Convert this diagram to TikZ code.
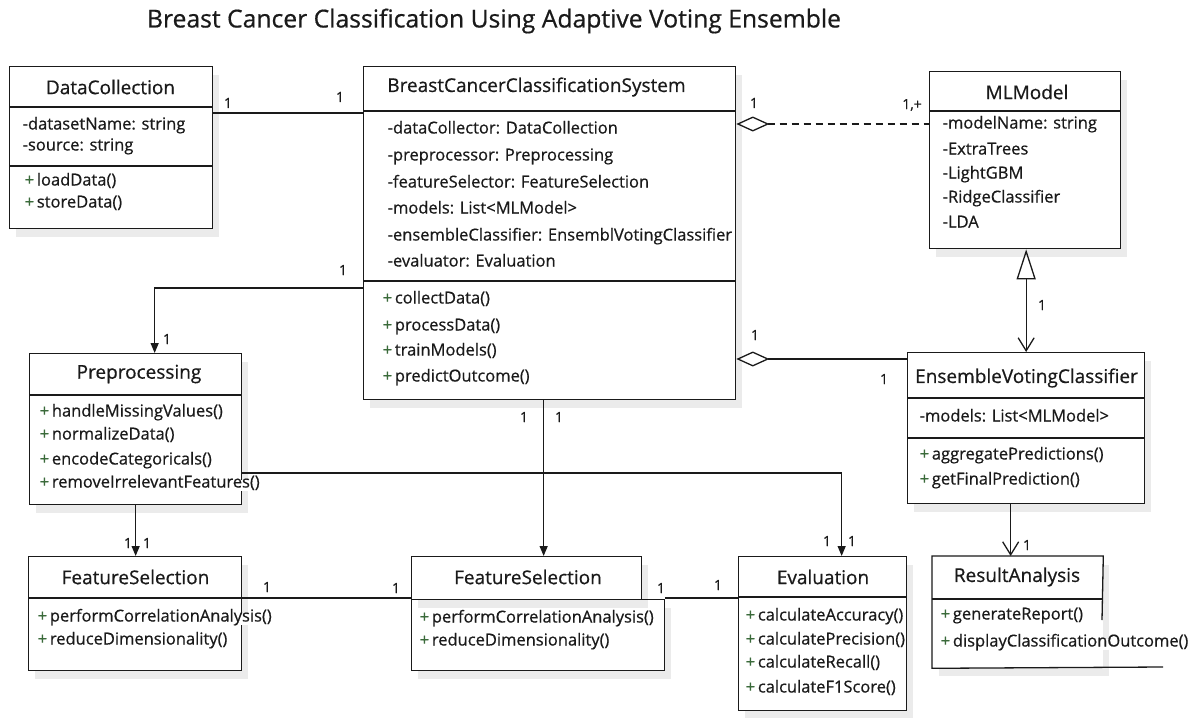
\documentclass[tikz,border=0pt]{standalone}
\usepackage{fontspec}
\setmainfont{Open Sans}[FakeBold=0.6]
\usetikzlibrary{arrows.meta,calc,shadows}
\definecolor{ink}{HTML}{1A1A1A}
\definecolor{plusgreen}{HTML}{3A6A3A}
\newcommand\op{\textcolor{plusgreen}{+}\,}
\tikzset{
  classbox/.style={draw=ink, line width=1.3pt, fill=white, anchor=north west, inner sep=0pt,
    drop shadow={shadow xshift=6pt, shadow yshift=-8pt, opacity=0.08, fill=black}},
  ctitle/.style={font=\fontsize{19}{22}\selectfont, text=ink, inner sep=0pt},
  member/.style={font=\fontsize{16.5}{19}\selectfont, text=ink, anchor=west, inner sep=0.5pt,
    fill=white, text height=0.75em, text depth=0.25em},
  mult/.style={font=\fontsize{14}{16}\selectfont, text=ink, inner sep=0pt},
  divider/.style={draw=ink, line width=1.3pt},
  link/.style={draw=ink, line width=1.3pt},
  solidtip/.style={-{Triangle[length=10pt,width=8pt]}},
  opentip/.style={-{Straight Barb[length=13pt,width=16pt]}},
  aggr/.style={{Diamond[open,length=33pt,width=15pt]}-},
}
\begin{document}
\begin{tikzpicture}[x=1pt,y=-1pt]
\useasboundingbox[fill=white] (0,0) rectangle (1193,717);

% heading
\node[font=\fontsize{24.7}{29}\selectfont, text=ink] (heading) at (494,21)
  {Breast Cancer Classification Using Adaptive Voting Ensemble};

% ---------- DataCollection ----------
\node[classbox, minimum width=203pt, minimum height=162pt] (dc) at (9,66) {};
\draw[divider] (9,107) -- (212,107);
\draw[divider] (9,166) -- (212,166);
\node[ctitle] (dct) at (110.5,87) {DataCollection};
\node[member] at (22,127) {-datasetName: string};
\node[member] at (22,148) {-source: string};
\node[member] at (24,183) {\op loadData()};
\node[member] at (24,205) {\op storeData()};

% ---------- BreastCancerClassificationSystem ----------
\node[classbox, minimum width=372pt, minimum height=333pt] (bccs) at (363,66) {};
\draw[divider] (363,111) -- (735,111);
\draw[divider] (363,281) -- (735,281);
\node[ctitle] (bccst) at (536.5,87) {BreastCancerClassificationSystem};
\node[member] at (387,131) {-dataCollector: DataCollection};
\node[member] at (387,158) {-preprocessor: Preprocessing};
\node[member] at (387,185) {-featureSelector: FeatureSelection};
\node[member] at (387,211) {-models: List<MLModel>};
\node[member] at (387,238) {-ensembleClassifier: EnsemblVotingClassifier};
\node[member] at (387,264) {-evaluator: Evaluation};
\node[member] at (382,301) {\op collectData()};
\node[member] at (382,328) {\op processData()};
\node[member] at (382,353) {\op trainModels()};
\node[member] at (382,379) {\op predictOutcome()};

% ---------- MLModel ----------
\node[classbox, minimum width=191pt, minimum height=177pt] (ml) at (929,71) {};
\draw[divider] (929,111) -- (1120,111);
\node[ctitle] (mlt) at (1027,92) {MLModel};
\node[member] at (942,126) {-modelName: string};
\node[member] at (942,152) {-ExtraTrees};
\node[member] at (942,176) {-LightGBM};
\node[member] at (942,200) {-RidgeClassifier};
\node[member] at (942,225) {-LDA};

% ---------- EnsembleVotingClassifier ----------
\node[classbox, minimum width=237pt, minimum height=151pt] (evc) at (907,352) {};
\draw[divider] (907,398) -- (1144,398);
\draw[divider] (907,438) -- (1144,438);
\node[ctitle] (evct) at (1026.5,378) {EnsembleVotingClassifier};
\node[member] at (919,419) {-models: List<MLModel>};
\node[member] at (919,457) {\op aggregatePredictions()};
\node[member] at (919,482) {\op getFinalPrediction()};

% ---------- Preprocessing ----------
\node[classbox, minimum width=212pt, minimum height=151pt] (pre) at (29,353) {};
\draw[divider] (29,395) -- (241,395);
\node[ctitle] (pret) at (139,374) {Preprocessing};
\node[member] at (39,414) {\op handleMissingValues()};
\node[member] at (39,437) {\op normalizeData()};
\node[member] at (39,462) {\op encodeCategoricals()};
\node[member] at (39,485) {\op removeIrrelevantFeatures()};

% ---------- FeatureSelection (left) ----------
\node[classbox, minimum width=213pt, minimum height=114pt] (fsa) at (28,556) {};
\draw[divider] (28,598) -- (241,598);
\node[ctitle] (fsat) at (135.5,577) {FeatureSelection};
\node[member] at (37,619) {\op performCorrelationAnalysis()};
\node[member] at (37,642) {\op reduceDimensionality()};

% ---------- FeatureSelection (middle) ----------
\node[classbox, minimum width=253pt, minimum height=71pt] (fsb) at (411,599) {};
\node[classbox, minimum width=230pt, minimum height=43pt] (fsh) at (411,556) {};
\node[ctitle] (fsbt) at (528,577) {FeatureSelection};
\node[member] at (419,620) {\op performCorrelationAnalysis()};
\node[member] at (419,643) {\op reduceDimensionality()};

% ---------- Evaluation ----------
\node[classbox, minimum width=168pt, minimum height=154pt] (ev) at (738,556) {};
\draw[divider] (738,597) -- (906,597);
\node[ctitle] (evt) at (823,577) {Evaluation};
\node[member] at (745,618) {\op calculateAccuracy()};
\node[member] at (745,642) {\op calculatePrecision()};
\node[member] at (745,665) {\op calculateRecall()};
\node[member] at (745,690) {\op calculateF1Score()};

% ---------- ResultAnalysis (open-sided frame) ----------
\node[classbox, draw=none, minimum width=170pt, minimum height=111pt] (ra) at (932,556) {};
\draw[divider] (1163,667) -- (ra.south west) -- (ra.north west) -- (ra.north east) -- (1102,620);
\draw[divider] (932,599) -- (1102,599);
\node[ctitle] (rat) at (1017,577) {ResultAnalysis};
\node[member] at (940,617) {\op generateReport()};
\node[member] at (940,644) {\op displayClassificationOutcome()};

% ---------- connectors ----------
% DataCollection -- system
\draw[link] ([yshift=-47pt]dc.north east) -- ([yshift=-47pt]bccs.north west);
\node[mult] at (228,103) {1};
\node[mult] at (340,97) {1};

% system <>- - MLModel
\draw[link, aggr, dash pattern=on 7pt off 5pt] ([yshift=-58pt]bccs.north east) -- ([yshift=-53pt]ml.north west);
\node[mult] at (754,103) {1};
\node[mult] at (912,105) {1,+};

% system <>-- EnsembleVotingClassifier
\draw[link, aggr] ([yshift=-293pt]bccs.north east) -- ([yshift=-7pt]evc.north west);
\node[mult] at (755,335) {1};
\node[mult] at (884,379) {1};

% EnsembleVotingClassifier --|> MLModel
\draw[link, {Straight Barb[length=13pt,width=16pt]}-{Triangle[open,length=30pt,width=19pt]}] (evc.north) -- (evc.north |- ml.south);
\node[mult] at (1042,305) {1};

% EnsembleVotingClassifier --> ResultAnalysis
\draw[link, opentip] ([xshift=-15.5pt]evc.south) -- ([xshift=-15.5pt]evc.south |- ra.north);
\node[mult] at (1027,545) {1};

% system --> Preprocessing
\draw[link, solidtip] ([yshift=-222pt]bccs.north west) -| ([xshift=19pt]pre.north);
\node[mult] at (343,270) {1};
\node[mult] at (167,339) {1};

% Preprocessing --> FeatureSelection
\draw[link, solidtip] (pre.south) -- (pre.south |- fsa.north);
\node[mult] at (128,543) {1};
\node[mult] at (147,543) {1};

% Preprocessing --> Evaluation
\draw[link, solidtip] ([yshift=-120pt]pre.north east) -| ([xshift=19pt]ev.north);
\node[mult] at (827,541) {1};
\node[mult] at (852,541) {1};

% system --> FeatureSelection (middle)
\draw[link, solidtip] ([xshift=-6pt]bccs.south) -- ([xshift=-6pt]bccs.south |- fsh.north);
\node[mult] at (524,417) {1};
\node[mult] at (559,417) {1};

% FeatureSelection -- FeatureSelection
\draw[link] ([yshift=-42pt]fsa.north east) -- ([yshift=-42pt]fsa.north east -| fsh.west);
\node[mult] at (267,587) {1};
\node[mult] at (396,588) {1};

% FeatureSelection -- Evaluation
\draw[link] ([yshift=1pt]fsb.north east) -- ([yshift=1pt]fsb.north east -| ev.west);
\node[mult] at (661,588) {1};
\node[mult] at (718,585) {1};
\end{tikzpicture}
\end{document}
